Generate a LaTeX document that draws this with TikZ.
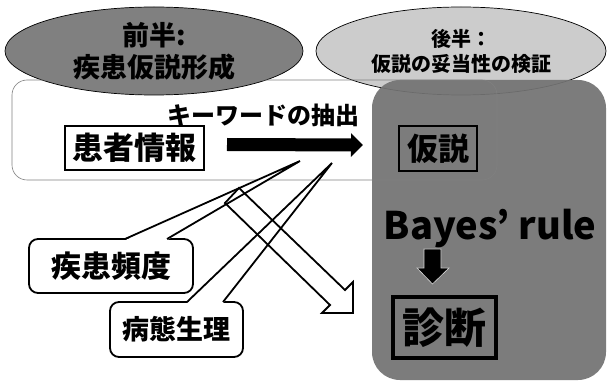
\documentclass[tikz,border=0pt]{standalone}
\usepackage{fontspec}
\newfontfamily\jp{Noto Sans CJK JP}
\usetikzlibrary{shapes.geometric,arrows.meta}
\definecolor{lgray}{gray}{0.50}
\definecolor{rgray}{gray}{0.80}
\definecolor{boxgray}{gray}{0.45}
\newcommand\fsz[1]{\fontsize{#1}{#1}\selectfont}
\begin{document}
\begin{tikzpicture}[x=1pt,y=-1pt,
  phase/.style={ellipse, draw=black, line width=0.7pt, inner sep=0pt, outer sep=0pt, align=center},
  plainbox/.style={draw=black, line width=1.8pt, inner sep=0pt, outer sep=0pt},
  callout/.style={draw=black, line width=1.8pt, fill=white, rounded corners=9pt, inner sep=0pt, outer sep=0pt},
  ptr/.style={draw=black, line width=1.8pt},
]
\useasboundingbox (0,0) rectangle (608,382);
\fill[white] (0,0) rectangle (608,382);

% phase ellipses
\node[phase, fill=lgray, minimum width=298pt, minimum height=88pt,
      font=\jp\bfseries\fontsize{27}{32}\selectfont] (first) at (154,51) {前半:\\疾患仮説形成};
\node[phase, fill=rgray, minimum width=290pt, minimum height=88pt,
      font=\jp\bfseries\fontsize{20}{25}\selectfont] (second) at (461,51) {後半：\\仮説の妥当性の検証};

% verification panel
\node[fill=boxgray, fill opacity=0.93, rounded corners=28pt, minimum width=234pt,
      minimum height=300pt, inner sep=0pt, outer sep=0pt] (verify) at (489,230) {};

% extraction frame
\node[draw=black!50, line width=0.6pt, rounded corners=15pt, minimum width=485pt,
      minimum height=100pt, inner sep=0pt, outer sep=0pt] (extract) at (254.5,130) {};

\node[font=\jp\bfseries\fsz{24}, inner sep=0pt] (kw) at (263,115) {キーワードの抽出};
\node[plainbox, fill=white, minimum width=139pt, minimum height=44pt,
      font=\jp\bfseries\fsz{31}] (info) at (134.5,148) {患者情報};
\node[plainbox, minimum width=78pt, minimum height=45pt,
      font=\jp\bfseries\fsz{31}] (hyp) at (438,148.5) {仮説};

\draw[line width=13pt, -{Triangle[length=12pt,width=23pt]}]
  ([xshift=23pt,yshift=3.5pt]info.east) -- ([xshift=-36pt,yshift=3.5pt]hyp.west);

\node[font=\jp\bfseries\fsz{38}, inner sep=0pt] (bayes) at (490,228) {Bayes’ rule};
\node[plainbox, line width=3.5pt, minimum width=103pt, minimum height=61pt,
      font=\jp\bfseries\fsz{42}] (diag) at (444.5,327.5) {診断};

\draw[fill=black, draw=white!85!black, line width=0.6pt]
  (424,249) -- (441,249) -- (441,268) -- (449,268) -- (432.5,284) -- (417,268) -- (424,268) -- cycle;

% callouts
\node[callout, minimum width=164pt, minimum height=54pt,
      font=\jp\bfseries\fsz{30}] (freq) at (111,266) {疾患頻度};
\coordinate (freqtip) at (300,161);
\fill[white] ([xshift=96pt,yshift=-1.2pt]freq.north west) -- (freqtip) -- ([xshift=138pt,yshift=-1.2pt]freq.north west) -- cycle;
\draw[ptr] ([xshift=96pt]freq.north west) -- (freqtip) -- ([xshift=138pt]freq.north west);

\node[callout, minimum width=133pt, minimum height=55pt,
      font=\jp\bfseries\fsz{27}] (patho) at (176.5,329.5) {病態生理};
\coordinate (pathotip) at (332,163);
\fill[white] ([xshift=77pt,yshift=-1.2pt]patho.north west) -- (pathotip) -- ([xshift=113pt,yshift=-1.2pt]patho.north west) -- cycle;
\draw[ptr] ([xshift=77pt]patho.north west) -- (pathotip) -- ([xshift=113pt]patho.north west);

% open block arrow
\draw[line width=1.8pt, line join=miter]
  (239,188) -- (345,290) -- (353,282) -- (353,313) -- (322,313) -- (330,305) -- (225,203) -- cycle;
\end{tikzpicture}
\end{document}
